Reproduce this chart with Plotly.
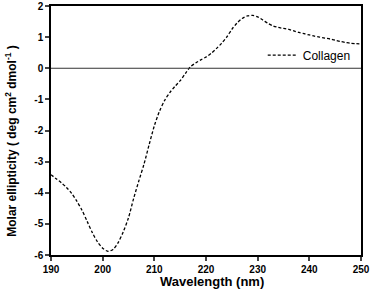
import plotly.graph_objects as go

wavelength = list(range(190, 251))
ellipticity = [
    -3.42, -3.55, -3.68, -3.83, -4.02, -4.27, -4.56, -4.92, -5.28, -5.58,
    -5.78, -5.88, -5.82, -5.60, -5.25, -4.80, -4.18, -3.62, -3.08, -2.45,
    -1.85, -1.38, -1.03, -0.78, -0.58, -0.40, -0.17, 0.05, 0.17, 0.27,
    0.36, 0.48, 0.63, 0.80, 1.00, 1.25, 1.45, 1.60, 1.68, 1.70,
    1.65, 1.55, 1.44, 1.36, 1.31, 1.28, 1.25, 1.20, 1.15, 1.11,
    1.07, 1.03, 1.00, 0.97, 0.94, 0.90, 0.86, 0.83, 0.80, 0.79,
    0.78,
]
series_name = "Collagen"
x_ticks = [190, 200, 210, 220, 230, 240, 250]
y_ticks = [-6, -5, -4, -3, -2, -1, 0, 1, 2]
y_ticktext = [str(v) for v in y_ticks]

fig = go.Figure()
fig.add_trace(go.Scatter(
    x=wavelength, y=ellipticity, mode="lines", name=series_name,
    line=dict(color="black", width=1.3, dash="3px,2px",
              shape="spline", smoothing=0.8),
))
fig.add_hline(y=0, line=dict(color="#333333", width=1))

fig.update_layout(
    width=370, height=294,
    margin=dict(l=51, r=9, t=6, b=39, autoexpand=False),
    paper_bgcolor="white", plot_bgcolor="white",
    font=dict(family="Liberation Sans, Arial, sans-serif", color="black"),
    showlegend=True,
    legend=dict(x=0.683, y=0.803, xanchor="left", yanchor="middle",
                bgcolor="rgba(0,0,0,0)", font=dict(size=12),
                itemwidth=30),
    xaxis=dict(range=[190, 250], tickvals=x_ticks, showgrid=False,
               zeroline=False, showline=True, linecolor="black", linewidth=1.5,
               mirror=True, ticks="outside", ticklen=4, tickwidth=1.5,
               automargin=False,
               tickfont=dict(size=10, family="Liberation Sans", weight="bold")),
    yaxis=dict(range=[-6, 2], tickvals=y_ticks, ticktext=y_ticktext,
               showgrid=False, zeroline=False, showline=True,
               linecolor="black", linewidth=1.5, mirror=True,
               ticks="outside", ticklen=4, tickwidth=1.5,
               automargin=False,
               tickfont=dict(size=10, family="Liberation Sans", weight="bold")),
    annotations=[
        dict(text="<b>Wavelength (nm)</b>", xref="paper", yref="paper",
             x=0.52, y=-0.108, xanchor="center", yanchor="middle",
             showarrow=False, font=dict(size=13)),
        dict(text="<b>Molar ellipticity ( deg cm<sup>2</sup> dmol<sup>-1</sup> )</b>",
             xref="paper", yref="paper", x=-0.128, y=0.46,
             xanchor="center", yanchor="middle", textangle=-90,
             showarrow=False, font=dict(size=12)),
    ],
)

fig.write_html("out.html", config={"displayModeBar": False},
               post_script="document.body.style.margin='0';")
